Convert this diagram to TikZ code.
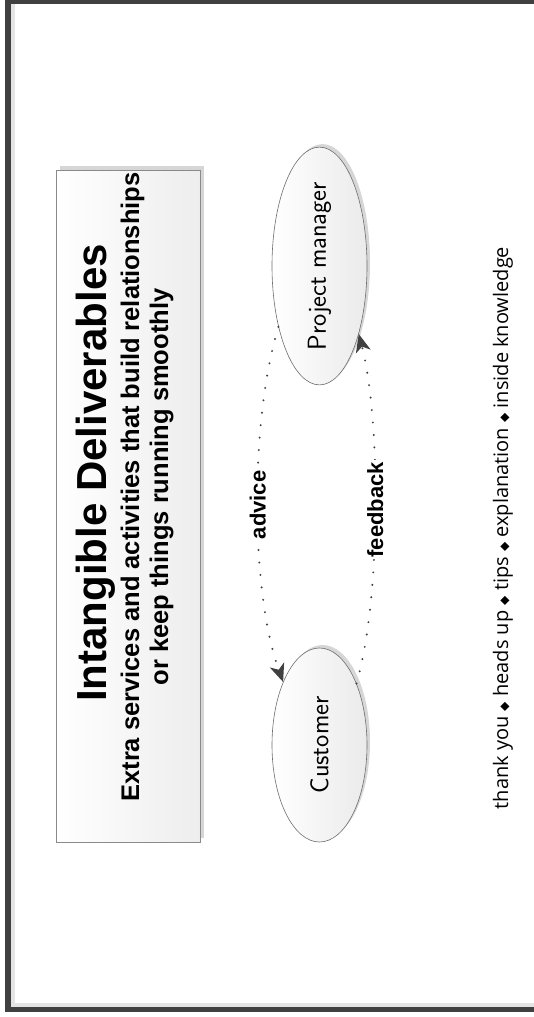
\documentclass[tikz,border=0pt]{standalone}
\usepackage{fontspec}
\setmainfont{Liberation Sans}
\newfontfamily\notefont{Open Sans}
\newfontfamily\symfont{DejaVu Sans}
\usetikzlibrary{shapes.geometric,shadows,arrows.meta}
\definecolor{framegray}{HTML}{404040}
\definecolor{bandgray}{HTML}{E4E4E4}
\definecolor{boxline}{HTML}{8A8A8A}
\definecolor{ellline}{HTML}{6E6E6E}
\newcommand{\dmd}{{\symfont\fontsize{12}{12}\selectfont ◆}}
\tikzset{
  titlebox/.style={rectangle, draw=boxline, line width=1pt, left color=white, right color=black!7,
    minimum width=144pt, minimum height=672pt, inner sep=0pt,
    drop shadow={shadow xshift=4pt, shadow yshift=4pt, fill=black!16, opacity=1}},
  party/.style={ellipse, draw=ellline, line width=0.6pt, left color=white, right color=black!8,
    minimum width=95pt, minimum height=194pt, inner sep=0pt,
    drop shadow={shadow xshift=3pt, shadow yshift=3pt, fill=black!16, opacity=1}},
  flow/.style={draw=framegray, line width=2.2pt, line cap=round, dash pattern=on 0pt off 12.5pt,
    -{Stealth[length=18pt, width=15pt, inset=5pt, fill=framegray]}},
  flowlabel/.style={fill=white, rotate=90, inner sep=2pt, font=\bfseries\fontsize{22}{24}\selectfont},
  handtext/.style={font=\sffamily\fontsize{26}{28}\selectfont}
}
\begin{document}
\begin{tikzpicture}[x=1pt, y=-1pt]
\useasboundingbox (0,0) rectangle (534,1017);

% page frame
\fill[framegray] (5,0) rectangle (534,3.5);
\fill[framegray] (5,0) rectangle (10.5,1012);
\fill[framegray] (5,1006.5) rectangle (534,1012);
\fill[bandgray] (10.5,3.5) rectangle (14.5,1006.5);
\fill[bandgray] (10.5,1002.5) rectangle (534,1006.5);

% heading panel
\node[titlebox] (panel) at (128,506) {};
\node[rotate=90, font=\bfseries\fontsize{42}{46}\selectfont] (heading) at (96,473) {Intangible Deliverables};
\node[rotate=90, align=center, font=\bfseries\fontsize{25.5}{29}\selectfont] (subheading) at (147,487)
  {Extra services and activities that build relationships\\or keep things running smoothly};

% the two parties
\node[party] (pm) at (319.5,266) {\rotatebox{90}{\sffamily\fontsize{26}{28}\selectfont Project manager}};
\node[party] (cu) at (319.5,745) {\rotatebox{90}{\sffamily\fontsize{26}{28}\selectfont Customer}};

% exchanges between them
\draw[flow] (pm.236) .. controls (250,420) and (250,590) .. (cu.120) node[flowlabel, midway] (advice) {advice};
\draw[flow] (cu.59) .. controls (381,600) and (381,420) .. (pm.300) node[flowlabel, midway] (feedback) {feedback};

% list of examples
\node[rotate=90, font=\notefont\fontsize{20}{22}\selectfont] (examples) at (503,528)
  {thank you \dmd{} heads up \dmd{} tips \dmd{} explanation \dmd{} inside knowledge};
\end{tikzpicture}
\end{document}
